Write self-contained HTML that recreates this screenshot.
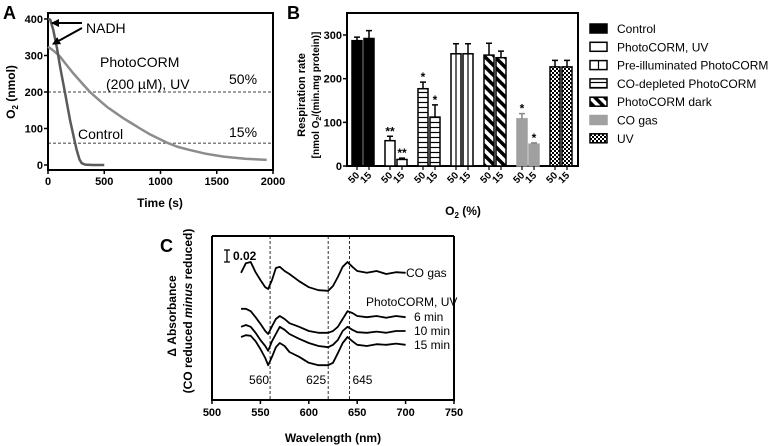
<!DOCTYPE html>
<html><head><meta charset="utf-8"><style>
html,body{margin:0;padding:0;background:#fff;}
svg{display:block;font-family:"Liberation Sans",Arial,sans-serif;}
</style></head><body>
<svg id="fig" width="777" height="446" viewBox="0 0 777 446" xmlns="http://www.w3.org/2000/svg">
<defs>
<pattern id="pH" width="6" height="5" patternUnits="userSpaceOnUse"><rect width="6" height="5" fill="#fff"/><line x1="0" y1="2.5" x2="6" y2="2.5" stroke="#000" stroke-width="1.2"/></pattern>
<pattern id="pD" width="7" height="7" patternUnits="userSpaceOnUse" patternTransform="rotate(-45)"><rect width="7" height="7" fill="#fff"/><rect width="3.5" height="7" fill="#000"/></pattern>
<pattern id="pC" width="4" height="4" patternUnits="userSpaceOnUse"><rect width="4" height="4" fill="#fff"/><rect width="2" height="2" fill="#000"/><rect x="2" y="2" width="2" height="2" fill="#000"/></pattern>
<marker id="arr" markerWidth="8" markerHeight="8" refX="7" refY="4" orient="auto" markerUnits="userSpaceOnUse"><path d="M0,0 L8,4 L0,8 z" fill="#000"/></marker>
</defs>
<g id="pa"></g>
<g id="pb"></g>
<g id="pc"></g>
</svg>
<script>
// ---- Panel A data ----
const aCtrlT=[0,20,47,80,107,150,196,230,255,280,300,330,400,500];
const aCtrlV=[400,398,370,320,270,200,123,75,41,15,5,1,0,0];
const aPhotoT=[0,50,107,160,225,300,373,450,521,600,670,750,818,900,1000,1067,1150,1262,1400,1560,1750,1944];
const aPhotoV=[324,313,297,276,251,225,200,179,160,143,128,113,100,85,70,60,50,41,31,23,17,14];
const aXTicks=[0,500,1000,1500,2000];
const aYTicks=[0,100,200,300,400];
// ---- Panel B data ----
const bGroups=["Control","PhotoCORM, UV","CO-depleted PhotoCORM","Pre-illuminated PhotoCORM","PhotoCORM dark","CO gas","UV"];
const bVal50=[287,58,177,257,254,108,227];
const bVal15=[292,15,112,257,248,50,227];
const bErr50=[8,10,15,23,27,12,15];
const bErr15=[18,3,28,23,15,3,15];
const bStar50=["","**","*","","","*",""];
const bStar15=["","**","*","","","*",""];
const bYTicks=[0,100,200,300];
const bXLabels=["50","15"];
// ---- Panel C data ----
const cWl=[530,535,540,545,550,555,558,562,566,570,575,580,590,600,610,620,625,630,635,640,645,650,660,670,680,690,700];
const cCO=[0.212,0.228,0.230,0.213,0.200,0.188,0.185,0.200,0.220,0.222,0.215,0.210,0.198,0.188,0.183,0.182,0.190,0.205,0.222,0.230,0.222,0.215,0.212,0.215,0.210,0.213,0.212];
const c6=[0.152,0.152,0.148,0.138,0.127,0.115,0.110,0.123,0.135,0.140,0.135,0.128,0.122,0.115,0.112,0.112,0.115,0.122,0.135,0.148,0.145,0.140,0.138,0.140,0.137,0.140,0.138];
const c10=[0.122,0.125,0.122,0.112,0.100,0.090,0.082,0.098,0.110,0.122,0.117,0.110,0.102,0.095,0.090,0.088,0.092,0.100,0.115,0.122,0.117,0.113,0.112,0.114,0.112,0.115,0.115];
const c15=[0.105,0.108,0.107,0.098,0.085,0.070,0.058,0.072,0.088,0.095,0.090,0.080,0.072,0.062,0.058,0.058,0.062,0.078,0.095,0.105,0.098,0.092,0.090,0.093,0.092,0.094,0.092];
const cXTicks=[500,550,600,650,700,750];
const cDash=[560,620,642];
const cPeakLabels=["560","625","645"];

const NS="http://www.w3.org/2000/svg";
function mk(p,tag,at){const e=document.createElementNS(NS,tag);for(const k in at)e.setAttribute(k,at[k]);p.appendChild(e);return e;}
function txt(p,x,y,s,at){const e=mk(p,"text",Object.assign({x:x,y:y},at||{}));e.textContent=s;return e;}

// ===== Panel A =====
const A=document.getElementById("pa");
const ax=t=>48+t*(225/2000), ay=v=>165-v*(146/400);
txt(A,3,19,"A",{"font-size":18,"font-weight":"bold"});
let e=mk(A,"rect",{x:48,y:13,width:225,height:157,fill:"none",stroke:"#000","stroke-width":2});

aXTicks.forEach(t=>{mk(A,"line",{x1:ax(t),y1:170,x2:ax(t),y2:174,stroke:"#000","stroke-width":1.5});
 const l=txt(A,ax(t),185,String(t),{"font-size":11,"font-weight":"bold","text-anchor":"middle"});
 });
aYTicks.forEach(v=>{mk(A,"line",{x1:44,y1:ay(v),x2:48,y2:ay(v),stroke:"#000","stroke-width":1.5});
 const l=txt(A,43,ay(v)+4,String(v),{"font-size":11,"font-weight":"bold","text-anchor":"end"});
 });
e=txt(A,160,207,"Time (s)",{"font-size":12,"font-weight":"bold","text-anchor":"middle"});
e=mk(A,"text",{transform:"translate(15,92) rotate(-90)","font-size":12,"font-weight":"bold","text-anchor":"middle"});
e.innerHTML='O<tspan font-size="8" dy="3">2</tspan><tspan dy="-3"> (nmol)</tspan>';
[200,60].forEach(v=>{const d=mk(A,"line",{x1:48,y1:ay(v),x2:273,y2:ay(v),stroke:"#000","stroke-width":0.8,"stroke-dasharray":"3,2"});});
let p=mk(A,"polyline",{points:aPhotoT.map((t,i)=>ax(t)+","+ay(aPhotoV[i])).join(" "),fill:"none",stroke:"#8c8c8c","stroke-width":2.5,"stroke-linejoin":"round"});

p=mk(A,"polyline",{points:aCtrlT.map((t,i)=>ax(t)+","+ay(aCtrlV[i])).join(" "),fill:"none",stroke:"#5a5a5a","stroke-width":2.5,"stroke-linejoin":"round"});

mk(A,"line",{x1:82,y1:23,x2:52,y2:23,stroke:"#000","stroke-width":2,"marker-end":"url(#arr)"});
mk(A,"line",{x1:82,y1:28,x2:53,y2:44,stroke:"#000","stroke-width":2,"marker-end":"url(#arr)"});
txt(A,86,33,"NADH",{"font-size":14});
txt(A,100,67,"PhotoCORM",{"font-size":14});
txt(A,106,89,"(200 µM), UV",{"font-size":14});
txt(A,229,84,"50%",{"font-size":14});
txt(A,78,139,"Control",{"font-size":14});
txt(A,229,137,"15%",{"font-size":14});

// ===== Panel B =====
const B=document.getElementById("pb");
const by=v=>166-v*(131/300);
const fills=["#000","#fff","url(#pH)","#fff","url(#pD)","#a0a0a0","url(#pC)"];
const strokes=["#000","#000","#000","#000","#000","#a0a0a0","#000"];
txt(B,287,19,"B",{"font-size":18,"font-weight":"bold"});
e=mk(B,"path",{d:"M347,13 V166 H578 V13 Z",fill:"none",stroke:"#000","stroke-width":2});
bYTicks.forEach(v=>{mk(B,"line",{x1:343,y1:by(v),x2:347,y2:by(v),stroke:"#000","stroke-width":1.5});
 const l=txt(B,342,by(v)+4,String(v),{"font-size":11,"font-weight":"bold","text-anchor":"end"});
 });
e=txt(B,0,0,"Respiration rate",{transform:"translate(305,95) rotate(-90)","font-size":11,"font-weight":"bold","text-anchor":"middle"});
e=mk(B,"text",{transform:"translate(319,95) rotate(-90)","font-size":10,"font-weight":"bold","text-anchor":"middle"});
e.innerHTML='[nmol O<tspan font-size="7" dy="2">2</tspan><tspan dy="-2">/(min.mg protein)]</tspan>';
e=mk(B,"text",{x:463,y:215,"font-size":12,"font-weight":"bold","text-anchor":"middle"});
e.innerHTML='O<tspan font-size="8" dy="3">2</tspan><tspan dy="-3"> (%)</tspan>';
bGroups.forEach((g,i)=>{
 const cx=[357+i*33,369+i*33];
 [[bVal50,bErr50,bStar50],[bVal15,bErr15,bStar15]].forEach((s,j)=>{
  const v=s[0][i],er=s[1][i],x=cx[j]-5;
  const r=mk(B,"rect",{x:x,y:by(v),width:10,height:166-by(v),fill:fills[i],stroke:strokes[i],"stroke-width":1.5});
  
  if(i===3)mk(B,"line",{x1:cx[j],y1:by(v),x2:cx[j],y2:166,stroke:"#000","stroke-width":1.2});
  const ec=i===5?"#888":"#000";
  const eb=mk(B,"path",{d:`M${cx[j]},${by(v)} V${by(v+er)} M${cx[j]-3},${by(v+er)} H${cx[j]+3}`,stroke:ec,"stroke-width":1.5,fill:"none"});
  
  if(s[2][i]){const st=txt(B,cx[j],by(v+er)-1,s[2][i],{"font-size":12,"font-weight":"bold","text-anchor":"middle"});}
  mk(B,"line",{x1:cx[j],y1:166,x2:cx[j],y2:170,stroke:"#000","stroke-width":1.2});
  const tl=txt(B,0,0,bXLabels[j],{transform:`translate(${cx[j]+3},176) rotate(-45)`,"font-size":10,"font-weight":"bold","text-anchor":"end"});
  
 });
});
const legN=["Control","PhotoCORM, UV","Pre-illuminated PhotoCORM","CO-depleted PhotoCORM","PhotoCORM dark","CO gas","UV"];
const legF=["#000","#fff","#fff","url(#pH)","url(#pD)","#a0a0a0","url(#pC)"];
legN.forEach((n,k)=>{const yy=24+k*18.3;
 const g=mk(B,"g",{});
 mk(g,"rect",{x:590,y:yy,width:17,height:9,fill:legF[k],stroke:k===5?"#a0a0a0":"#000","stroke-width":1.5});
 if(k===2)mk(g,"line",{x1:598.5,y1:yy,x2:598.5,y2:yy+9,stroke:"#000","stroke-width":1.2});
 txt(g,617,yy+9,n,{"font-size":12});
});

// ===== Panel C =====
const C=document.getElementById("pc");
const cx_=w=>212+(w-500)*(242/250), cy_=v=>400-v*600;
txt(C,160,252,"C",{"font-size":18,"font-weight":"bold"});
e=mk(C,"path",{d:"M212,236 V400 H454 V236",fill:"none",stroke:"#000","stroke-width":2});
mk(C,"line",{x1:212,y1:236,x2:454,y2:236,stroke:"#000","stroke-width":2});
cXTicks.forEach(w=>{mk(C,"line",{x1:cx_(w),y1:400,x2:cx_(w),y2:404,stroke:"#000","stroke-width":1.5});
 const l=txt(C,cx_(w),416,String(w),{"font-size":11,"font-weight":"bold","text-anchor":"middle"});
 });
txt(C,333,442,"Wavelength (nm)",{"font-size":12,"font-weight":"bold","text-anchor":"middle"});
txt(C,0,0,"Δ Absorbance",{transform:"translate(176,316) rotate(-90)","font-size":12,"font-weight":"bold","text-anchor":"middle"});
e=mk(C,"text",{transform:"translate(192,311) rotate(-90)","font-size":12,"font-weight":"bold","text-anchor":"middle"});
e.innerHTML='(CO reduced <tspan font-style="italic">minus</tspan>  reduced)';
cDash.forEach((w,i)=>{const d=mk(C,"line",{x1:cx_(w),y1:236,x2:cx_(w),y2:400,stroke:"#000","stroke-width":0.8,"stroke-dasharray":"3,2"});});
[[cx_(560)-1,"end"],[cx_(620)-2,"end"],[cx_(642)+3,"start"]].forEach((q,i)=>{txt(C,q[0],384,cPeakLabels[i],{"font-size":12,"text-anchor":q[1]});});
[[cCO,"co-gas-spectrum"],[c6,"spectrum-6min"],[c10,"spectrum-10min"],[c15,"spectrum-15min"]].forEach(s=>{
 const l=mk(C,"polyline",{points:cWl.map((w,i)=>cx_(w)+","+cy_(s[0][i])).join(" "),fill:"none",stroke:"#000","stroke-width":1.8,"stroke-linejoin":"round"});
 });
mk(C,"path",{d:"M227,250 V262 M224,250 H230 M224,262 H230",stroke:"#000","stroke-width":1.3,fill:"none"});
txt(C,233,260,"0.02",{"font-size":12,"font-weight":"bold"});
txt(C,406,277,"CO gas",{"font-size":12});
txt(C,366,306,"PhotoCORM, UV",{"font-size":12});
txt(C,414,321,"6 min",{"font-size":12});
txt(C,414,335,"10 min",{"font-size":12});
txt(C,414,349,"15 min",{"font-size":12});
</script>
</body></html>
